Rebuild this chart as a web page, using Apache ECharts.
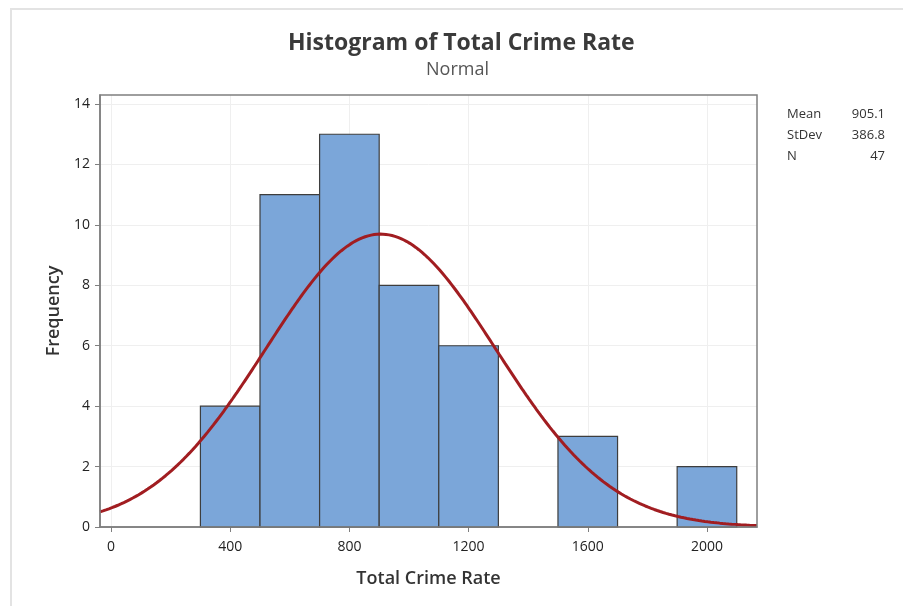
<!DOCTYPE html>
<html>
<head>
<meta charset="utf-8">
<script src="https://cdn.jsdelivr.net/npm/echarts@6/dist/echarts.min.js"></script>
<style>
  html, body { margin: 0; padding: 0; background: #fff; }
  #chart { width: 903px; height: 606px; }
</style>
</head>
<body>
<div id="chart"></div>
<script>
// Histogram bins (lower edges) and their frequencies
const binStarts = [300, 500, 700, 900, 1100, 1300, 1500, 1700, 1900];
const binWidth = 200;
const counts = [4, 11, 13, 8, 6, 0, 3, 0, 2];

// Summary statistics shown in the side panel
const statNames = ['Mean', 'StDev', 'N'];
const statValues = ['905.1', '386.8', '47'];
const mean = 905.1;
const stdev = 386.8;
const n = 47;

// Axis tick labels
const xTicks = [0, 400, 800, 1200, 1600, 2000];
const yTicks = [0, 2, 4, 6, 8, 10, 12, 14];

const xMin = -37, xMax = 2168;

// Fitted normal density scaled to frequency per bin
function fitted(x) {
  const z = (x - mean) / stdev;
  return n * binWidth / (stdev * Math.sqrt(2 * Math.PI)) * Math.exp(-0.5 * z * z);
}
const curve = [];
for (let x = xMin; x < xMax; x += 5) curve.push([x, fitted(x)]);
curve.push([xMax, fitted(xMax)]);

const bars = binStarts.map((s, i) => [s, s + binWidth, counts[i]]).filter(d => d[2] > 0);

const font = '"Open Sans", "Noto Sans", sans-serif';
const chart = echarts.init(document.getElementById('chart'), null, { renderer: 'canvas' });

const statGraphics = [];
statNames.forEach((name, i) => {
  statGraphics.push({
    type: 'text', left: 787, top: 108 + i * 21,
    style: { text: name, fontFamily: font, fontSize: 13, fill: '#333' }
  });
  statGraphics.push({
    type: 'text', right: 18, top: 108 + i * 21,
    style: { text: statValues[i], fontFamily: font, fontSize: 13, fill: '#333', align: 'right' }
  });
});

chart.setOption({
  animation: false,
  backgroundColor: '#fff',
  grid: { left: 100, right: 146, top: 95, bottom: 79, show: false },
  xAxis: {
    type: 'value', min: xMin, max: xMax,
    name: 'Total Crime Rate', nameLocation: 'middle', nameGap: 43,
    nameTextStyle: { fontFamily: font, fontSize: 18, fontWeight: 600, color: '#333' },
    axisLine: { show: true, onZero: false, lineStyle: { color: '#7f7f7f', width: 1.5 } },
    axisTick: { show: true, customValues: xTicks, length: 5, lineStyle: { color: '#7f7f7f' } },
    axisLabel: { customValues: xTicks, formatter: v => String(v), fontFamily: font, fontSize: 14, color: '#222', margin: 13 },
    splitLine: { show: true, lineStyle: { color: '#efefef', width: 1 } }
  },
  yAxis: {
    type: 'value', min: 0, max: 14.3,
    name: 'Frequency', nameLocation: 'middle', nameGap: 34,
    nameTextStyle: { fontFamily: font, fontSize: 18, fontWeight: 600, color: '#333' },
    axisLine: { show: true, onZero: false, lineStyle: { color: '#7f7f7f', width: 1.5 } },
    axisTick: { show: true, customValues: yTicks, length: 5, lineStyle: { color: '#7f7f7f' } },
    axisLabel: { customValues: yTicks, fontFamily: font, fontSize: 14, color: '#222', margin: 10 },
    splitLine: { show: true, lineStyle: { color: '#efefef', width: 1 } }
  },
  graphic: [
    { type: 'polyline', silent: true, shape: { points: [[11, 606], [11, 9], [903, 9]] },
      style: { stroke: '#e3e3e3', lineWidth: 2, fill: null } },
    { type: 'text', left: 288, top: 32, style: { text: 'Histogram of Total Crime Rate', fontFamily: font, fontSize: 23, fontWeight: 'bold', fill: '#3a3a3a' } },
    { type: 'text', top: 61, left: 426, style: { text: 'Normal', fontFamily: font, fontSize: 18, fill: '#555' } },
    { type: 'rect', silent: true, z: 100, shape: { x: 100, y: 95, width: 657, height: 432 },
      style: { stroke: '#7f7f7f', lineWidth: 1.5, fill: null } }
  ].concat(statGraphics),
  series: [
    {
      type: 'custom',
      data: bars,
      renderItem: function (params, api) {
        const p0 = api.coord([api.value(0), 0]);
        const p1 = api.coord([api.value(1), api.value(2)]);
        return {
          type: 'rect',
          shape: { x: p0[0], y: p1[1], width: p1[0] - p0[0], height: p0[1] - p1[1] },
          style: { fill: '#7ba6d9', stroke: '#3d3d3d', lineWidth: 1.2 }
        };
      },
      encode: { x: [0, 1], y: 2 },
      z: 2
    },
    {
      type: 'line', data: curve, showSymbol: false, smooth: false,
      lineStyle: { color: '#a11d21', width: 3 }, z: 3
    }
  ]
});
</script>
</body>
</html>
